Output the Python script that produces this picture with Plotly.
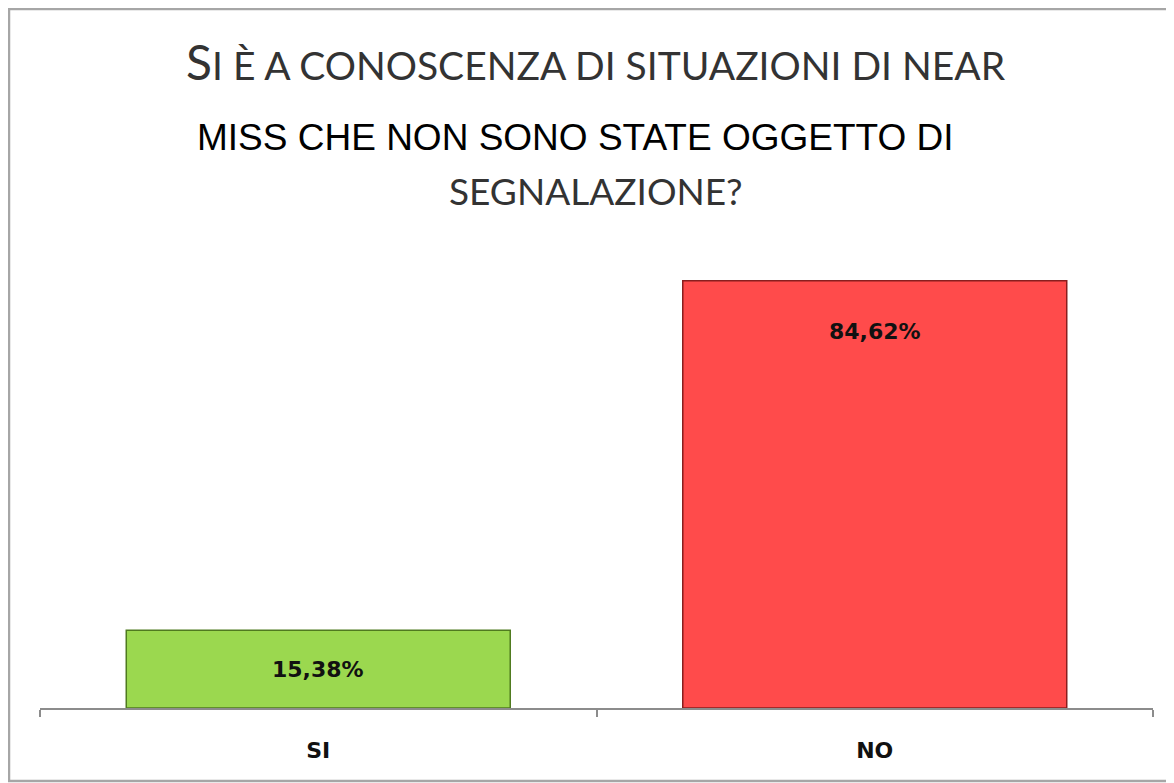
import plotly.graph_objects as go

categories = ["SI", "NO"]
values = [15.38, 84.62]
bar_colors = ["#9BD84F", "#FF4B4B"]
edge_colors = ["#4F7A1F", "#8A1E1E"]
title_line1 = "SI È A CONOSCENZA DI SITUAZIONI DI NEAR"
title_line2 = "MISS CHE NON SONO STATE OGGETTO DI"
title_line3 = "SEGNALAZIONE?"

labels = [f"{v:.2f}".replace(".", ",") + "%" for v in values]

# the page body adds an 8px margin, so the figure is drawn 8px smaller
OFF = 8
W, H = 1174 - OFF, 783 - OFF
ml, mr, mt, mb = 40 - OFF, 21, 203 - OFF, 75
pw, ph = W - ml - mr, H - mt - mb

def px_x(x):
    return (x - OFF - ml) / pw

def px_y(y):
    return (H - mb - (y - OFF)) / ph

fig = go.Figure()
fig.add_trace(go.Bar(
    x=categories, y=values, width=0.69,
    marker=dict(color=bar_colors, line=dict(color=edge_colors, width=1.5)),
    hoverinfo="skip",
))

for c, v, lab in zip(categories, values, labels):
    fig.add_annotation(x=c, y=max(v / 2, v - 10), text=f"<b>{lab}</b>", showarrow=False,
                       font=dict(family="DejaVu Sans", size=22, color="#111"))

title_font = dict(family="Lato", size=37, color="#333")
fig.add_annotation(xref="paper", yref="paper", x=px_x(596), y=px_y(61),
                   text=f"<span style='font-size:48px'>{title_line1[0]}</span>{title_line1[1:]}",
                   showarrow=False, font=dict(family="Lato", size=39, color="#333"),
                   xanchor="center", yanchor="middle")
fig.add_annotation(xref="paper", yref="paper", x=px_x(575), y=px_y(137),
                   text=title_line2, showarrow=False,
                   font=dict(family="Liberation Sans", size=37, color="#000"),
                   xanchor="center", yanchor="middle")
fig.add_annotation(xref="paper", yref="paper", x=px_x(596), y=px_y(190),
                   text=title_line3, showarrow=False, font=title_font,
                   xanchor="center", yanchor="middle")

fig.add_shape(type="rect", xref="paper", yref="paper",
              x0=px_x(9), x1=px_x(1172), y0=px_y(781), y1=px_y(9),
              line=dict(color="#A6A6A6", width=2.5), layer="below")

fig.update_layout(
    width=W, height=H,
    margin=dict(l=ml, r=mr, t=mt, b=mb, pad=0),
    paper_bgcolor="white", plot_bgcolor="white",
    showlegend=False,
    xaxis=dict(range=[-0.5, 1.5], showline=True, linecolor="#8C8C8C", linewidth=1.5,
               ticks="outside", ticklen=7, tickcolor="#8C8C8C", tickwidth=1.5,
               tickson="boundaries", showgrid=False, ticklabelstandoff=22,
               tickfont=dict(family="DejaVu Sans", size=22, color="#111"),
               tickvals=categories, ticktext=[f"<b>{c}</b>" for c in categories]),
    yaxis=dict(range=[0, 100], visible=False, showgrid=False),
)

fig.write_html("out.html")
